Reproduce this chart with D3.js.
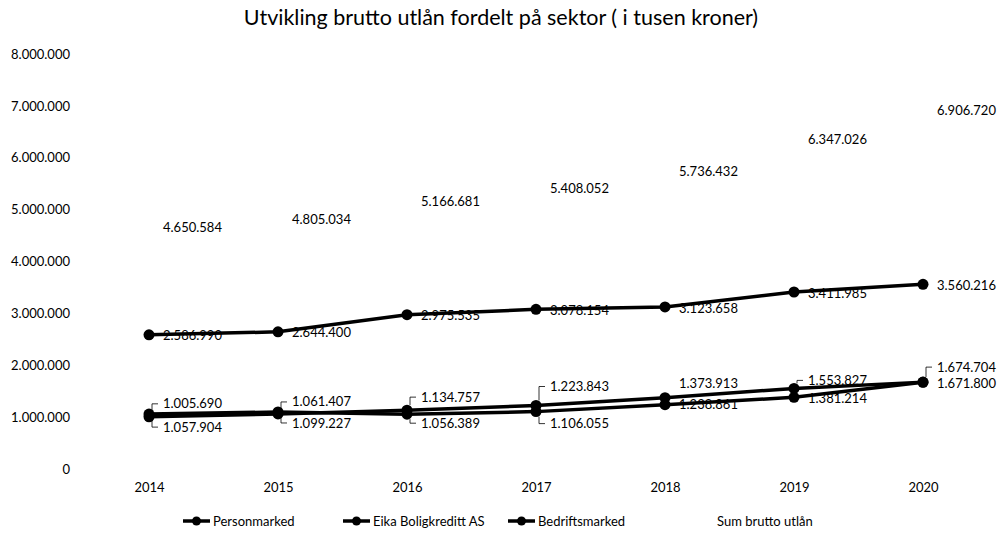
<!DOCTYPE html>
<html>
<head>
<meta charset="utf-8">
<script src="https://cdn.jsdelivr.net/npm/d3@7"></script>
<style>
  body { margin: 0; background: #fff; }
  svg text { font-family: Lato, "Open Sans", sans-serif; fill: #000; }
</style>
</head>
<body>
<svg id="drawing_region"></svg>
<script>
// data (i tusen kroner)
const years = ["2014", "2015", "2016", "2017", "2018", "2019", "2020"];
const personmarked = [2586990, 2644400, 2975535, 3078154, 3123658, 3411985, 3560216];
const eika = [1005690, 1061407, 1134757, 1223843, 1373913, 1553827, 1674704];
const bedrift = [1057904, 1099227, 1056389, 1106055, 1238861, 1381214, 1671800];
const sum = [4650584, 4805034, 5166681, 5408052, 5736432, 6347026, 6906720];
const yTicks = [0, 1000000, 2000000, 3000000, 4000000, 5000000, 6000000, 7000000, 8000000];

const title = "Utvikling brutto utlån fordelt på sektor ( i tusen kroner)";

// label placement (vertical shift of each data label, and leader line on/off)
const eikaDy = [-13, -12, -13, -19, -14, -8, -15];
const eikaLeader = [true, true, true, true, false, true, true];
const bedriftDy = [13, 11, 9, 12, 0, 1, 1];
const bedriftLeader = [true, true, true, true, false, false, false];

const series = [
    { name: "Personmarked", values: personmarked, line: true, dy: years.map(() => 1), leader: years.map(() => false) },
    { name: "Eika Boligkreditt AS", values: eika, line: true, dy: eikaDy, leader: eikaLeader },
    { name: "Bedriftsmarked", values: bedrift, line: true, dy: bedriftDy, leader: bedriftLeader },
    { name: "Sum brutto utlån", values: sum, line: false, dy: years.map(() => 0), leader: years.map(() => false) }
];

const config = {
    width: 1002,
    height: 533,
    plot: { left: 84.5, right: 987.5, top: 54, bottom: 469 }
};

const nf = d3.formatLocale({ decimal: ",", thousands: ".", grouping: [3], currency: ["", " kr"] }).format(",d");

const svg = d3.select("#drawing_region")
    .attr("width", config.width)
    .attr("height", config.height);

const x = d3.scalePoint()
    .domain(years)
    .range([config.plot.left, config.plot.right])
    .padding(0.5);

const y = d3.scaleLinear()
    .domain([0, 8000000])
    .range([config.plot.bottom, config.plot.top]);

// title
svg.append("text")
    .attr("x", 501)
    .attr("y", 25)
    .attr("text-anchor", "middle")
    .attr("font-size", "21.5px")
    .text(title);

// y axis (labels only)
const yAxis = d3.axisLeft(y).tickValues(yTicks).tickFormat(nf).tickSize(0).tickPadding(0);
svg.append("g")
    .attr("transform", `translate(70,0)`)
    .call(yAxis)
    .call(g => g.select(".domain").remove())
    .selectAll("text")
    .attr("font-family", "Lato, sans-serif")
    .attr("font-size", "13px");

// x axis (labels only)
const xAxis = d3.axisBottom(x).tickSize(0).tickPadding(0);
svg.append("g")
    .attr("transform", `translate(0,${config.plot.bottom + 14})`)
    .call(xAxis)
    .call(g => g.select(".domain").remove())
    .selectAll("text")
    .attr("font-family", "Lato, sans-serif")
    .attr("font-size", "13px");

// data labels (drawn first so the lines sit on top like in the original)
const labelG = svg.append("g");
series.forEach(s => {
    s.values.forEach((v, i) => {
        const px = x(years[i]), py = y(v);
        const ly = py + s.dy[i];
        labelG.append("text")
            .attr("x", px + 14)
            .attr("y", ly)
            .attr("dy", "0.35em")
            .attr("font-size", "13px")
            .text(nf(v));
        if (s.leader[i]) {
            const lx = px + 3;
            const up = s.dy[i] < 0;
            const yEnd = ly;
            const yStart = up ? py - 5 : py + 5;
            labelG.append("path")
                .attr("d", `M${lx},${yStart} L${lx},${yEnd} L${lx + 6},${yEnd}`)
                .attr("fill", "none")
                .attr("stroke", "#000")
                .attr("stroke-width", 0.8);
        }
    });
});

// lines + markers
const line = d3.line()
    .x((d, i) => x(years[i]))
    .y(d => y(d));

series.filter(s => s.line).forEach(s => {
    svg.append("path")
        .datum(s.values)
        .attr("d", line)
        .attr("fill", "none")
        .attr("stroke", "#000")
        .attr("stroke-width", 3.5);
    svg.append("g").selectAll("circle")
        .data(s.values)
        .join("circle")
        .attr("cx", (d, i) => x(years[i]))
        .attr("cy", d => y(d))
        .attr("r", 5.5)
        .attr("fill", "#000");
});

// legend
const legendX = [183, 343, 508, 717];
const legend = svg.append("g").attr("transform", "translate(0,521)");
series.forEach((s, i) => {
    const g = legend.append("g").attr("transform", `translate(${legendX[i]},0)`);
    let tx = 0;
    if (s.line) {
        g.append("line")
            .attr("x1", 0).attr("x2", 27)
            .attr("stroke", "#000").attr("stroke-width", 3.5);
        g.append("circle").attr("cx", 13.5).attr("r", 4.5).attr("fill", "#000");
        tx = 30;
    }
    g.append("text")
        .attr("x", tx)
        .attr("dy", "0.35em")
        .attr("font-size", "13px")
        .text(s.name);
});
</script>
</body>
</html>
